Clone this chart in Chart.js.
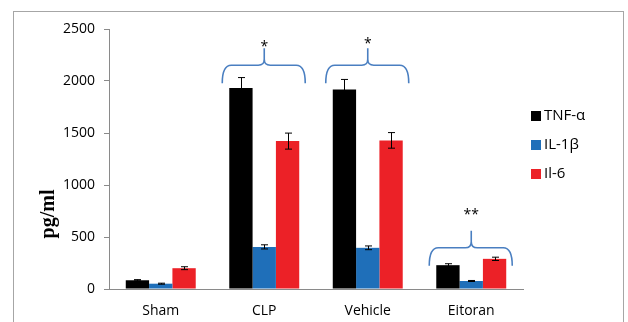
<!DOCTYPE html>
<html>
<head>
<meta charset="utf-8">
<script src="https://cdn.jsdelivr.net/npm/chart.js@4.4.1/dist/chart.umd.min.js"></script>
<style>
  html, body { margin: 0; padding: 0; background: #fff; }
  #wrap { width: 628px; height: 322px; position: relative; }
</style>
</head>
<body>
<div id="wrap"><canvas id="chart" width="628" height="322"></canvas></div>
<script>
// groups on the x axis
const groups = ["Sham", "CLP", "Vehicle", "Eitoran"]

// cytokine levels (pg/ml)
const tnfValues = [84, 1933, 1918, 229]
const il1bValues = [51, 405, 396, 77]
const il6Values = [200, 1422, 1429, 290]

// error bar half-lengths
const tnfErrors = [6, 100, 97, 14]
const il1bErrors = [5, 20, 18, 5]
const il6Errors = [14, 77, 75, 16]

const yTicks = [0, 500, 1000, 1500, 2000, 2500]

// significance braces: group, level of the brace line, level of the marker, marker text
const braceGroups = [1, 2, 3]
const braceLevels = [2152, 2152, 396]
const markLevels = [2360, 2385, 740]
const braceMarks = ["*", "*", "**"]

const seriesNames = ["TNF-\u03b1", "IL-1\u03b2", "Il-6"]
const seriesColors = ["#000000", "#1f6fb9", "#ec2127"]
const allErrors = [tnfErrors, il1bErrors, il6Errors]

const axisGray = "#8a8a8a"
const sans = "'Open Sans', 'Liberation Sans', Arial, sans-serif"

const framePlugin = {
  id: "frame",
  beforeDraw(chart) {
    const ctx = chart.ctx
    ctx.save()
    ctx.fillStyle = "#fff"
    ctx.fillRect(0, 0, chart.width, chart.height)
    ctx.strokeStyle = "#a6a6a6"
    ctx.lineWidth = 1
    ctx.strokeRect(13.5, 11.5, 610, 330)
    ctx.restore()
  },
  afterDraw(chart) {
    const ctx = chart.ctx
    ctx.save()
    // y axis title
    ctx.translate(49, 214)
    ctx.rotate(-Math.PI / 2)
    ctx.fillStyle = "#000"
    ctx.font = "bold 20px 'Liberation Serif', 'DejaVu Serif', serif"
    ctx.textAlign = "center"
    ctx.textBaseline = "middle"
    ctx.fillText("pg/ml", 0, 0)
    ctx.restore()

    // legend
    ctx.save()
    ctx.font = "15px " + sans
    ctx.textBaseline = "middle"
    chart.data.datasets.forEach((ds, i) => {
      const y = 116 + i * 29
      ctx.fillStyle = ds.backgroundColor
      ctx.fillRect(531, y - 5, 10, 10)
      ctx.fillStyle = "#000"
      ctx.fillText(ds.label, 544, y)
    })
    ctx.restore()
  }
}

const errorBarPlugin = {
  id: "errorBars",
  afterDatasetsDraw(chart) {
    const ctx = chart.ctx
    const yScale = chart.scales.y
    ctx.save()
    ctx.strokeStyle = "#000"
    ctx.lineWidth = 1
    chart.data.datasets.forEach((ds, di) => {
      const meta = chart.getDatasetMeta(di)
      meta.data.forEach((bar, i) => {
        const v = ds.data[i]
        const e = allErrors[di][i]
        const x = Math.round(bar.x) + 0.5
        const yTop = yScale.getPixelForValue(v + e)
        const yBot = yScale.getPixelForValue(v - e)
        ctx.beginPath()
        ctx.moveTo(x, yTop)
        ctx.lineTo(x, yBot)
        ctx.moveTo(x - 3.5, yTop)
        ctx.lineTo(x + 3.5, yTop)
        ctx.moveTo(x - 3.5, yBot)
        ctx.lineTo(x + 3.5, yBot)
        ctx.stroke()
      })
    })
    ctx.restore()
  }
}

const bracePlugin = {
  id: "braces",
  afterDatasetsDraw(chart) {
    const ctx = chart.ctx
    const xScale = chart.scales.x
    const yScale = chart.scales.y
    ctx.save()
    ctx.strokeStyle = "#4a7fc1"
    ctx.lineWidth = 1.6
    braceGroups.forEach((g, k) => {
      const xc = xScale.getPixelForValue(g)
      const yH = yScale.getPixelForValue(braceLevels[k])
      const x0 = xc - 42
      const x1 = xc + 41
      const yEnd = yH + 18
      const yCusp = yH - 17
      ctx.beginPath()
      ctx.moveTo(x0, yEnd)
      ctx.quadraticCurveTo(x0, yH, x0 + 9, yH)
      ctx.lineTo(xc - 6, yH)
      ctx.quadraticCurveTo(xc, yH, xc, yH - 6)
      ctx.lineTo(xc, yCusp)
      ctx.moveTo(xc, yH - 6)
      ctx.quadraticCurveTo(xc, yH, xc + 6, yH)
      ctx.lineTo(x1 - 9, yH)
      ctx.quadraticCurveTo(x1, yH, x1, yEnd)
      ctx.stroke()

      ctx.fillStyle = "#000"
      ctx.font = "14px " + sans
      ctx.textAlign = "center"
      ctx.textBaseline = "middle"
      ctx.fillText(braceMarks[k], xc, yScale.getPixelForValue(markLevels[k]) + 3)
    })
    ctx.restore()
  }
}

const chart = new Chart(document.getElementById("chart"), {
  type: "bar",
  data: {
    labels: groups,
    datasets: [
      { label: seriesNames[0], data: tnfValues, backgroundColor: seriesColors[0] },
      { label: seriesNames[1], data: il1bValues, backgroundColor: seriesColors[1] },
      { label: seriesNames[2], data: il6Values, backgroundColor: seriesColors[2] }
    ]
  },
  options: {
    responsive: false,
    animation: false,
    devicePixelRatio: 1,
    layout: { padding: { left: 0, right: 105, top: 29, bottom: 0 } },
    datasets: { bar: { categoryPercentage: 0.676, barPercentage: 1 } },
    plugins: {
      legend: { display: false },
      tooltip: { enabled: false }
    },
    scales: {
      x: {
        grid: { display: false },
        border: { color: axisGray, width: 1 },
        ticks: {
          color: "#000",
          padding: 6,
          font: { family: sans, size: 14 }
        },
        afterFit(scale) { scale.height = 33 }
      },
      y: {
        min: 0,
        max: 2500,
        afterBuildTicks(scale) { scale.ticks = yTicks.map(v => ({ value: v })) },
        grid: { drawOnChartArea: false, tickLength: 5, color: axisGray },
        border: { color: axisGray, width: 1 },
        ticks: {
          color: "#000",
          padding: 9,
          font: { family: sans, size: 14 },
          callback: (v) => String(v)
        },
        afterFit(scale) { scale.width = 109 }
      }
    }
  },
  plugins: [framePlugin, errorBarPlugin, bracePlugin]
})
</script>
</body>
</html>
